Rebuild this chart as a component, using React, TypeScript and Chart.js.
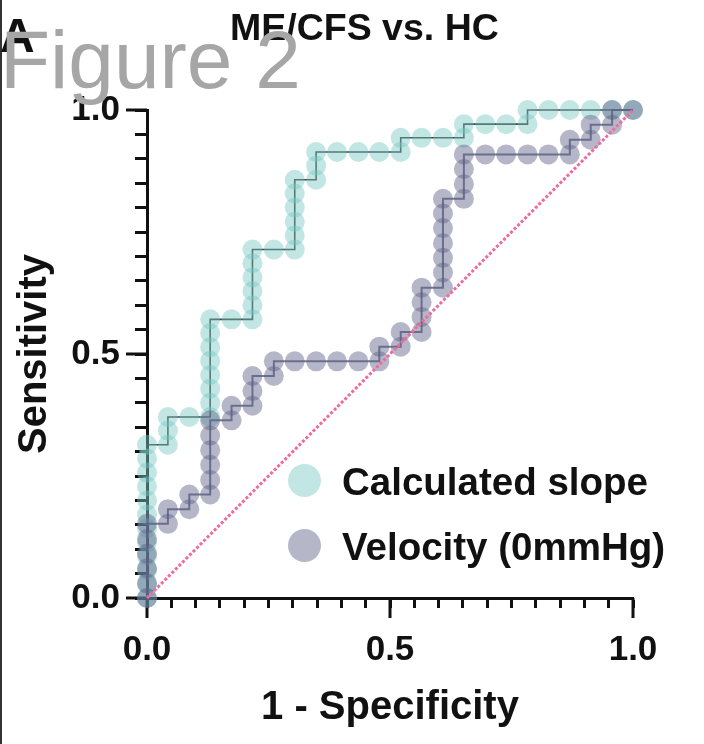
import { useEffect, useRef } from "react"
import { Chart, registerables } from "chart.js"

Chart.register(...registerables)

// ROC points (1 - specificity, sensitivity)
const slopeFpr = [
  0, 0, 0, 0, 0, 0, 0, 0, 0, 0, 0, 0,
  0.043, 0.043, 0.043,
  0.087,
  0.13, 0.13, 0.13, 0.13, 0.13, 0.13, 0.13, 0.13,
  0.174,
  0.217, 0.217, 0.217, 0.217, 0.217, 0.217,
  0.261,
  0.304, 0.304, 0.304, 0.304, 0.304, 0.304,
  0.348, 0.348, 0.348,
  0.391, 0.435, 0.478,
  0.522, 0.522,
  0.565, 0.609,
  0.652, 0.652,
  0.696, 0.739,
  0.783, 0.783,
  0.826, 0.87, 0.913, 0.957, 1,
]
const slopeTpr = [
  0, 0.029, 0.057, 0.086, 0.114, 0.143, 0.171, 0.2, 0.229, 0.257, 0.286, 0.314,
  0.314, 0.343, 0.371,
  0.371,
  0.371, 0.4, 0.429, 0.457, 0.486, 0.514, 0.543, 0.571,
  0.571,
  0.571, 0.6, 0.629, 0.657, 0.686, 0.714,
  0.714,
  0.714, 0.743, 0.771, 0.8, 0.829, 0.857,
  0.857, 0.886, 0.914,
  0.914, 0.914, 0.914,
  0.914, 0.943,
  0.943, 0.943,
  0.943, 0.971,
  0.971, 0.971,
  0.971, 1,
  1, 1, 1, 1, 1,
]

const velocityFpr = [
  0, 0, 0, 0, 0, 0,
  0.043, 0.043,
  0.087, 0.087,
  0.13, 0.13, 0.13, 0.13, 0.13, 0.13,
  0.174, 0.174,
  0.217, 0.217, 0.217,
  0.261, 0.261,
  0.304, 0.348, 0.391, 0.435,
  0.478, 0.478,
  0.522, 0.522,
  0.565, 0.565, 0.565, 0.565,
  0.609, 0.609, 0.609, 0.609, 0.609, 0.609, 0.609,
  0.652, 0.652, 0.652, 0.652,
  0.696, 0.739, 0.783, 0.826,
  0.87, 0.87,
  0.913, 0.913,
  0.957, 0.957,
  1,
]
const velocityTpr = [
  0, 0.03, 0.061, 0.091, 0.121, 0.152,
  0.152, 0.182,
  0.182, 0.212,
  0.212, 0.242, 0.273, 0.303, 0.333, 0.364,
  0.364, 0.394,
  0.394, 0.424, 0.455,
  0.455, 0.485,
  0.485, 0.485, 0.485, 0.485,
  0.485, 0.515,
  0.515, 0.545,
  0.545, 0.576, 0.606, 0.636,
  0.636, 0.667, 0.697, 0.727, 0.758, 0.788, 0.818,
  0.818, 0.848, 0.879, 0.909,
  0.909, 0.909, 0.909, 0.909,
  0.909, 0.939,
  0.939, 0.97,
  0.97, 1,
  1,
]

const chanceLine = [0, 1]
const majorTicks = [0, 0.5, 1]
const tickLabels = ["0.0", "0.5", "1.0"]

const FONT = '"Liberation Sans", Arial, Helvetica, sans-serif'
const TEAL = "rgba(120, 200, 195, 0.45)"
const GREY = "rgba(90, 95, 132, 0.45)"

const toPoints = (xs: number[], ys: number[]) => xs.map((x, i) => ({ x, y: ys[i] }))

const tickLabel = (value: number | string) => {
  const i = majorTicks.findIndex((m) => Math.abs(m - Number(value)) < 1e-6)
  return i >= 0 ? tickLabels[i] : ""
}

// longer tick marks at 0, 0.5 and 1
const majorTickPlugin = {
  id: "majorTicks",
  beforeDatasetsDraw(chart: any) {
    const { ctx, scales } = chart
    const xs = scales.x
    const ys = scales.y
    ctx.save()
    ctx.strokeStyle = "#111"
    ctx.lineWidth = 3
    ctx.beginPath()
    majorTicks.forEach((v) => {
      const py = ys.getPixelForValue(v)
      ctx.moveTo(xs.left - 21, py)
      ctx.lineTo(xs.left, py)
      const px = xs.getPixelForValue(v)
      ctx.moveTo(px, ys.bottom)
      ctx.lineTo(px, ys.bottom + 20)
    })
    ctx.stroke()
    ctx.restore()
  },
}

export default function App() {
  const chartRef = useRef<HTMLCanvasElement>(null)
  const chartInstance = useRef<Chart | null>(null)

  useEffect(() => {
    if (!chartRef.current) return
    if (chartInstance.current) chartInstance.current.destroy()
    const ctx = chartRef.current.getContext("2d")
    if (!ctx) return

    chartInstance.current = new Chart(ctx, {
      type: "scatter",
      data: {
        datasets: [
          {
            label: "Chance",
            data: toPoints(chanceLine, chanceLine),
            showLine: true,
            borderColor: "#ef6b9e",
            borderWidth: 3,
            borderDash: [3, 2],
            pointRadius: 0,
            clip: false,
          },
          {
            label: "Velocity (0mmHg)",
            data: toPoints(velocityFpr, velocityTpr),
            showLine: true,
            borderColor: "rgba(95, 100, 132, 0.85)",
            borderWidth: 2,
            pointRadius: 10,
            pointBorderWidth: 0,
            pointBackgroundColor: GREY,
            clip: false,
          },
          {
            label: "Calculated slope",
            data: toPoints(slopeFpr, slopeTpr),
            showLine: true,
            borderColor: "rgba(30, 40, 40, 0.9)",
            borderWidth: 1.6,
            pointRadius: 10,
            pointBorderWidth: 0,
            pointBackgroundColor: TEAL,
            clip: false,
          },
        ],
      },
      options: {
        responsive: true,
        maintainAspectRatio: false,
        animation: false,
        events: [],
        layout: { padding: { top: 110, right: 71, left: 0, bottom: 0 } },
        plugins: {
          legend: { display: false },
          tooltip: { enabled: false },
        },
        scales: {
          x: {
            type: "linear",
            min: 0,
            max: 1,
            afterFit: (scale: any) => {
              scale.height = 146
            },
            ticks: {
              stepSize: 0.05,
              autoSkip: false,
              maxRotation: 0,
              padding: 21,
              color: "#111",
              font: { family: FONT, size: 35, weight: "bold" },
              callback: tickLabel,
            },
            grid: {
              drawOnChartArea: false,
              drawTicks: true,
              tickLength: 10,
              tickWidth: 3,
              tickColor: "#111",
            },
            border: { display: true, color: "#111", width: 3 },
            title: {
              display: true,
              text: "1 - Specificity",
              color: "#111",
              padding: { top: 0, bottom: 12 },
              font: { family: FONT, size: 40, weight: "bold" },
            },
          },
          y: {
            type: "linear",
            min: 0,
            max: 1,
            afterFit: (scale: any) => {
              scale.width = 147
            },
            ticks: {
              stepSize: 0.05,
              autoSkip: false,
              padding: 15,
              color: "#111",
              font: { family: FONT, size: 35, weight: "bold" },
              callback: tickLabel,
            },
            grid: {
              drawOnChartArea: false,
              drawTicks: true,
              tickLength: 12,
              tickWidth: 3,
              tickColor: "#111",
            },
            border: { display: true, color: "#111", width: 3 },
            title: {
              display: true,
              text: "Sensitivity",
              color: "#111",
              padding: { top: 11, bottom: 0 },
              font: { family: FONT, size: 40, weight: "bold" },
            },
          },
        },
      },
      plugins: [majorTickPlugin],
    })

    return () => {
      if (chartInstance.current) {
        chartInstance.current.destroy()
        chartInstance.current = null
      }
    }
  }, [])

  const legendItem = (color: string, text: string, cy: number) => (
    <>
      <div
        style={{
          position: "absolute",
          left: 287.5,
          top: cy - 16.5,
          width: 33,
          height: 33,
          borderRadius: "50%",
          background: color,
        }}
      />
      <div
        style={{
          position: "absolute",
          left: 342,
          top: cy - 17,
          fontFamily: FONT,
          fontWeight: "bold",
          fontSize: 38.5,
          lineHeight: "38px",
          color: "#111",
          whiteSpace: "nowrap",
        }}
      >
        {text}
      </div>
    </>
  )

  return (
    <div
      style={{
        position: "absolute",
        left: 0,
        top: 0,
        width: 704,
        height: 744,
        background: "#fff",
        overflow: "hidden",
      }}
    >
      <canvas ref={chartRef} />
      <div style={{ position: "absolute", left: 0, top: 0, width: 2, height: 744, background: "#333" }} />
      <div
        style={{
          position: "absolute",
          left: 0,
          top: 12,
          fontFamily: FONT,
          fontWeight: "bold",
          fontSize: 48,
          lineHeight: "48px",
          color: "#111",
        }}
      >
        A
      </div>
      <div
        style={{
          position: "absolute",
          left: 230,
          top: 9,
          fontFamily: FONT,
          fontWeight: "bold",
          fontSize: 37.5,
          lineHeight: "37px",
          color: "#111",
          whiteSpace: "nowrap",
        }}
      >
        ME/CFS vs. HC
      </div>
      <div
        style={{
          position: "absolute",
          left: 0,
          top: 19,
          fontFamily: FONT,
          fontSize: 82,
          lineHeight: "82px",
          color: "#a6a6a6",
          whiteSpace: "nowrap",
        }}
      >
        Figure 2
      </div>
      {legendItem(TEAL, "Calculated slope", 480)}
      {legendItem(GREY, "Velocity (0mmHg)", 545)}
    </div>
  )
}
